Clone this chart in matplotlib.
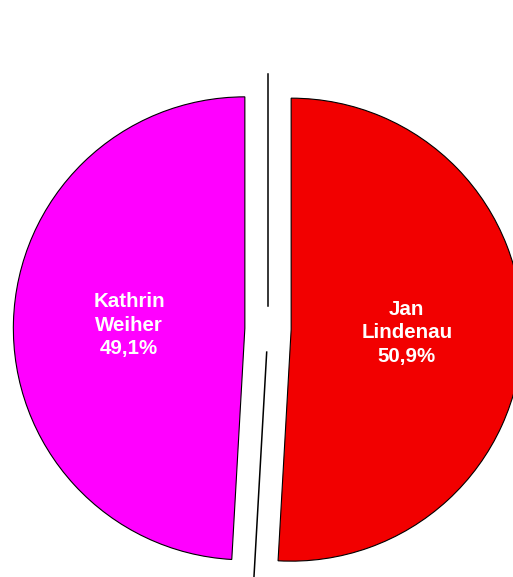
import numpy as np
import matplotlib.pyplot as plt

plt.rcParams['font.family'] = ['Liberation Sans', 'DejaVu Sans']

names = ["Kathrin\nWeiher", "Jan\nLindenau"]
shares = [49.1, 50.9]
share_labels = ["49,1%", "50,9%"]
colors = ["#FF00FF", "#F20000"]

W, H = 513, 577
R = 231.5            # pie radius in pixels
CX, CY = 268, 329    # pie centre in pixels (from top-left)

fig = plt.figure(figsize=(W / 100, H / 100), dpi=100)
ax = fig.add_axes([0, 0, 1, 1])

wedges, _ = ax.pie(shares, colors=colors, startangle=90, counterclock=True,
                   explode=[0.1, 0.1], radius=1,
                   wedgeprops=dict(edgecolor="black", linewidth=0.8))

# labels inside each slice
for w, name, lab in zip(wedges, names, share_labels):
    mid = np.deg2rad((w.theta1 + w.theta2) / 2)
    cx, cy = w.center
    ax.text(cx + 0.5 * np.cos(mid), cy + 0.5 * np.sin(mid), f"{name}\n{lab}",
            ha="center", va="center", color="white", fontsize=14.8,
            fontweight="bold", linespacing=1.3)

# separator lines along the slice boundaries
for w in wedges:
    a = np.deg2rad(w.theta1)
    ax.plot([0.1 * np.cos(a), 1.1 * np.cos(a)],
            [0.1 * np.sin(a), 1.1 * np.sin(a)], color="black", lw=1.1)

ax.set_aspect("auto")
ax.set_xlim(-CX / R, (W - CX) / R)
ax.set_ylim(-(H - CY) / R, CY / R)
ax.axis("off")

fig.savefig("out.png", dpi=100)
